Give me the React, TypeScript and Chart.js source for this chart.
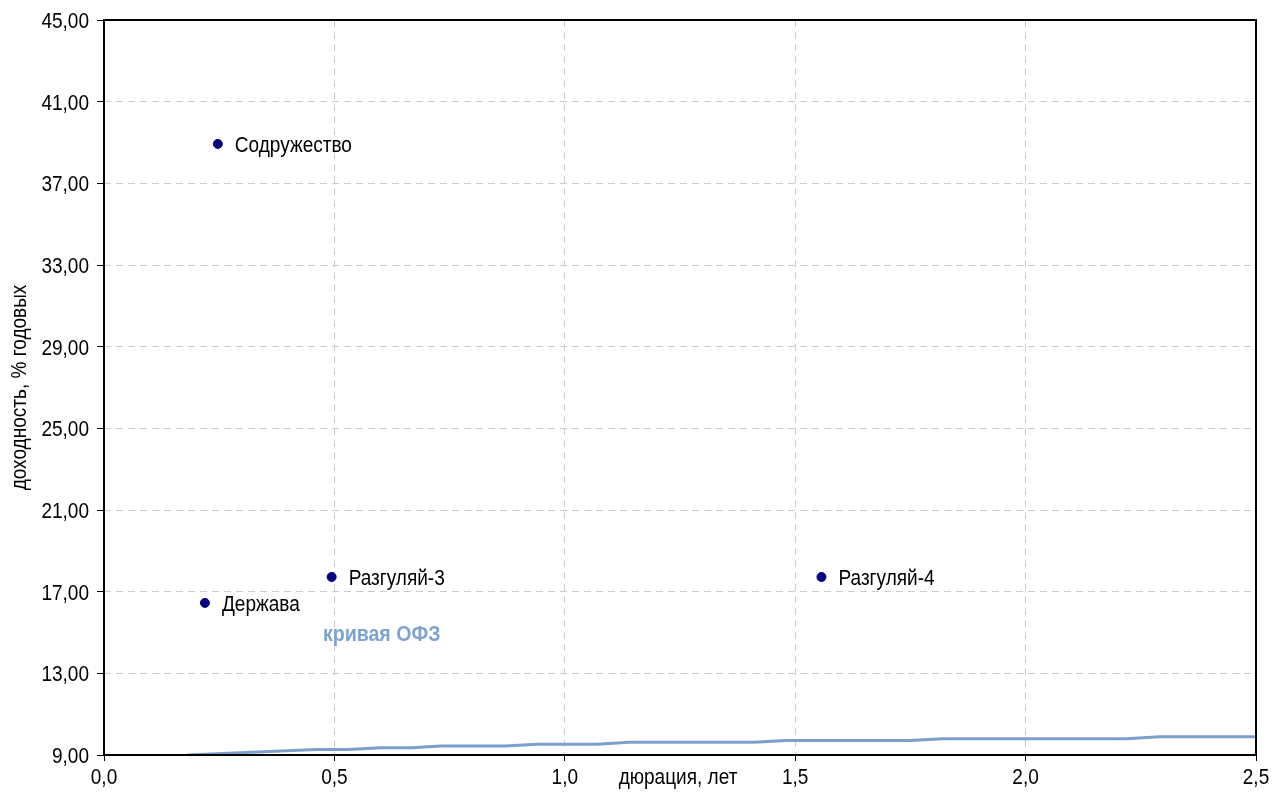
import React, { useEffect, useRef } from "react";
import { Chart, registerables } from "chart.js";

Chart.register(...registerables);

// Bond points
const bondNames = ["Содружество", "Держава", "Разгуляй-3", "Разгуляй-4"];
const bondDuration = [0.247, 0.219, 0.494, 1.557];
const bondYield = [38.93, 16.45, 17.72, 17.72];

// OFZ curve
const ofzDuration = [0.18, 0.46, 0.53, 0.6, 0.67, 0.73, 0.87, 0.94, 1.07, 1.14, 1.41, 1.48, 1.75, 1.82, 2.22, 2.29, 2.5];
const ofzYield = [9.0, 9.27, 9.27, 9.35, 9.35, 9.44, 9.44, 9.53, 9.53, 9.62, 9.62, 9.71, 9.71, 9.8, 9.8, 9.89, 9.89];
const ofzLabel = "кривая ОФЗ";
const ofzLabelPos = [0.475, 15.0];

// Axes
const xMin = 0, xMax = 2.5, xStep = 0.5;
const yMin = 9, yMax = 45, yStep = 4;
const xTitle = "дюрация, лет";
const yTitle = "доходность, % годовых";

const FONT = "'Liberation Sans', Arial, sans-serif";
const FS = 22;
const SX = 0.865; // condensed look
const DY = 2;

function drawText(ctx: CanvasRenderingContext2D, text: string, x: number, y: number, align: CanvasTextAlign, font: string, sx: number, rot = 0) {
  ctx.save();
  ctx.translate(x, y);
  if (rot) ctx.rotate(rot);
  ctx.scale(sx, 1);
  ctx.font = font;
  ctx.textAlign = align;
  ctx.textBaseline = "middle";
  ctx.fillText(text, 0, rot ? 0 : DY);
  ctx.restore();
}

export default function App() {
  const ref = useRef<HTMLCanvasElement>(null);
  useEffect(() => {
    if (!ref.current) return;
    const textPlugin = {
      id: "texts",
      afterDraw(chart: any) {
        const { ctx, chartArea, scales } = chart;
        const xs = scales.x, ys = scales.y;
        ctx.save();
        ctx.strokeStyle = "#000";
        ctx.lineWidth = 2;
        ctx.setLineDash([]);
        ctx.strokeRect(chartArea.left, chartArea.top, chartArea.right - chartArea.left, chartArea.bottom - chartArea.top);
        const f = `${FS}px ${FONT}`;
        ctx.fillStyle = "#000";
        // tick labels
        ys.ticks.forEach((t: any) => {
          drawText(ctx, Number(t.value).toFixed(2).replace(".", ","), chartArea.left - 15, ys.getPixelForValue(t.value), "right", f, SX);
        });
        xs.ticks.forEach((t: any) => {
          drawText(ctx, Number(t.value).toFixed(1).replace(".", ","), xs.getPixelForValue(t.value), chartArea.bottom + 21, "center", f, SX);
        });
        // point labels
        bondNames.forEach((n, i) => {
          drawText(ctx, n, xs.getPixelForValue(bondDuration[i]) + 17, ys.getPixelForValue(bondYield[i]), "left", f, SX);
        });
        // axis titles
        drawText(ctx, xTitle, (chartArea.left + chartArea.right) / 2 - 2, chartArea.bottom + 21, "center", f, SX);
        drawText(ctx, yTitle, 20, (chartArea.top + chartArea.bottom) / 2, "center", f, SX, -Math.PI / 2);
        // OFZ label
        ctx.fillStyle = "#7FA3D1";
        drawText(ctx, ofzLabel, xs.getPixelForValue(ofzLabelPos[0]), ys.getPixelForValue(ofzLabelPos[1]), "left", `bold ${FS}px ${FONT}`, 0.89);
        ctx.restore();
      },
    };
    const chart = new Chart(ref.current, {
      type: "scatter",
      data: {
        datasets: [
          {
            label: "bonds",
            data: bondDuration.map((x, i) => ({ x, y: bondYield[i] })),
            backgroundColor: "#000080",
            borderColor: "#000080",
            pointRadius: 4.5,
            showLine: false,
          },
          {
            label: "ofz",
            data: ofzDuration.map((x, i) => ({ x, y: ofzYield[i] })),
            borderColor: "#7BA0CE",
            backgroundColor: "#7BA0CE",
            borderWidth: 3,
            pointRadius: 0,
            showLine: true,
            tension: 0,
          },
        ],
      },
      options: {
        animation: false,
        responsive: true,
        maintainAspectRatio: false,
        layout: { padding: { top: 20, right: 21, left: 0, bottom: 0 } },
        plugins: { legend: { display: false }, tooltip: { enabled: false } },
        scales: {
          x: {
            type: "linear",
            min: xMin,
            max: xMax,
            ticks: { stepSize: xStep, display: false },
            grid: { color: "#cccccc", lineWidth: 1, tickColor: "#000", tickLength: 6, tickWidth: 1 },
            border: { display: false, dash: [7, 5] },
            afterFit: (s: any) => { s.height = 43; },
          },
          y: {
            type: "linear",
            min: yMin,
            max: yMax,
            ticks: { stepSize: yStep, display: false },
            grid: { color: "#cccccc", lineWidth: 1, tickColor: "#000", tickLength: 7, tickWidth: 1 },
            border: { display: false, dash: [7, 5] },
            afterFit: (s: any) => { s.width = 104; },
          },
        },
      },
      plugins: [textPlugin],
    });
    return () => chart.destroy();
  }, []);
  return (
    <div style={{ position: "fixed", left: 0, top: 0, width: 1277, height: 798, background: "#fff" }}>
      <canvas ref={ref} />
    </div>
  );
}
